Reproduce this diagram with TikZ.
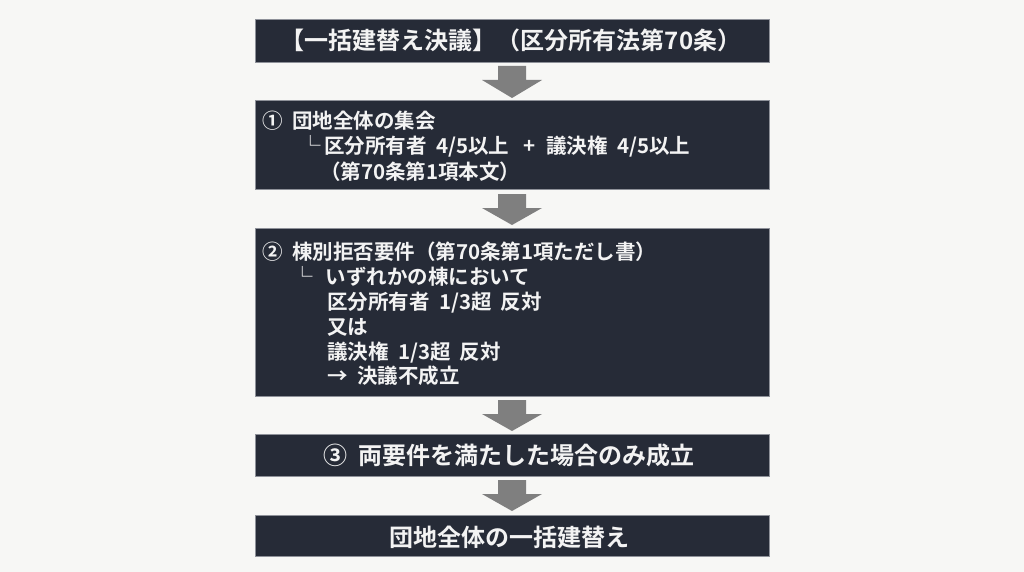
\documentclass[tikz,border=0pt]{standalone}
\usepackage{fontspec}
\newfontfamily\jp{Noto Sans CJK JP}[BoldFont={Noto Sans CJK JP Bold},WordSpace=2]
\definecolor{bg}{HTML}{F7F7F5}
\definecolor{boxfill}{HTML}{262B37}
\definecolor{boxline}{HTML}{8E9199}
\definecolor{arrowgray}{HTML}{7F7F7F}
\definecolor{txt}{HTML}{F3F3F3}
\tikzset{
  panel/.style={fill=boxfill, draw=boxline, line width=0.6pt},
  flowarrow/.style={fill=arrowgray, draw=none},
  bigtext/.style={anchor=base, inner sep=0pt, text=txt, font=\jp\bfseries\fontsize{24}{28}\selectfont},
  bodytext/.style={anchor=base west, inner sep=0pt, text=txt, font=\jp\bfseries\fontsize{20.5}{25}\selectfont},
}
\newcommand{\flowarr}[2]{% #1 = top y of shaft, #2 = tip y
  \fill[flowarrow] (498,#1) -- (526,#1) -- (526,{#1+14}) -- (542,{#1+14}) -- (512,#2) -- (482,{#1+14}) -- (498,{#1+14}) -- cycle;}
\begin{document}
\begin{tikzpicture}[x=1pt,y=-1pt]
\fill[bg] (0,0) rectangle (1024,572);
\useasboundingbox (0,0) rectangle (1024,572);

% boxes
\draw[panel] (255,19) rectangle (769,62);
\draw[panel] (255,100) rectangle (769,189);
\draw[panel] (255,228) rectangle (769,396);
\draw[panel] (255,434) rectangle (769,476);
\draw[panel] (255,515) rectangle (769,556);

% arrows
\flowarr{66}{98}
\flowarr{194}{225}
\flowarr{400}{431}
\flowarr{480}{511}

% title
\node[bigtext] (title) at (511,50) {【一括建替え決議】（区分所有法第70条）};

% box 1
\node[bodytext] (s1a) at (262,129) {① 団地全体の集会};
\node[bodytext] (s1c) at (300,154) {└};
\node[bodytext] (s1b) at (324,154) {区分所有者 4/5以上\hspace{14pt}+\hspace{11pt}議決権 4/5以上};
\node[bodytext] (s1d) at (320,179) {（第70条第1項本文）};

% box 2
\node[bodytext] (s2a) at (262,259) {② 棟別拒否要件（第70条第1項ただし書）};
\node[bodytext] (s2c) at (292,284) {└};
\node[bodytext] (s2b) at (325.5,284) {いずれかの棟において};
\node[bodytext] (s2d) at (327,309) {区分所有者 1/3超 反対};
\node[bodytext] (s2e) at (327,334) {又は};
\node[bodytext] (s2f) at (327,359) {議決権 1/3超 反対};
\node[bodytext] (s2g) at (327,383) {→ 決議不成立};

% box 3
\node[bigtext] (s3) at (509,464) {③ 両要件を満たした場合のみ成立};

% box 4
\node[bigtext] (s4) at (509,546) {団地全体の一括建替え};
\end{tikzpicture}
\end{document}
